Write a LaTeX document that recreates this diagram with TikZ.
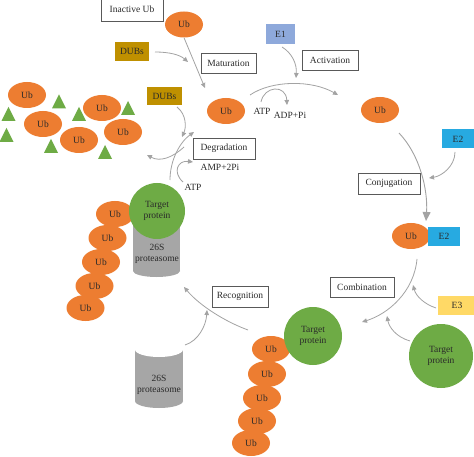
\documentclass[tikz,border=0pt]{standalone}
\usepackage{fontspec}
\setmainfont{Liberation Serif}
\usetikzlibrary{shapes.geometric,arrows.meta}
\definecolor{ubor}{HTML}{ED7D31}
\definecolor{tpg}{HTML}{6EAB45}
\definecolor{dubc}{HTML}{BF9000}
\definecolor{e1c}{HTML}{8EA9DB}
\definecolor{e2c}{HTML}{27AAE1}
\definecolor{e3c}{HTML}{FFD966}
\definecolor{cylc}{HTML}{A6A6A6}
\definecolor{arrc}{HTML}{A3A3A3}
\definecolor{bord}{HTML}{595959}
\definecolor{txt}{HTML}{2A2A2A}
\begin{document}
\begin{tikzpicture}[x=1pt,y=1pt,
  every node/.style={font=\fontsize{9.5}{10.5}\selectfont, text=txt},
  ub/.style={ellipse, fill=ubor, minimum width=38pt, minimum height=26pt, inner sep=0pt, text=txt},
  lbox/.style={draw=bord, line width=0.7pt, fill=white, minimum width=#1, minimum height=20pt, inner sep=0pt},
  ebox/.style={fill=#1, minimum height=19pt, inner sep=0pt},
  tp/.style={circle, fill=tpg, inner sep=0pt, align=center, text=txt, minimum size=#1},
  conn/.style={draw=arrc, line width=0.8pt, -{Triangle[length=5pt,width=4.5pt]}},
  tri/.style={fill=tpg}
]
\useasboundingbox (0,0) rectangle (474,-457);
\fill[white] (0,0) rectangle (474,-457);

% ---- top: inactive Ub and maturation
\node[lbox=62pt, minimum height=24pt] (inact) at (132,-9) {\raisebox{-2pt}{Inactive Ub}};
\node[ub] (ubA) at (184,-24.5) {Ub};
\node[ebox=dubc, minimum width=34pt] (dubsA) at (132,-51.5) {DUBs};
\node[lbox=55pt] (matur) at (228.5,-63.5) {Maturation};
\node[ub] (ubB) at (226,-111) {Ub};

% ---- activation
\node[ebox=e1c, minimum width=29pt, minimum height=20pt] (eone) at (280.5,-34) {E1};
\node[lbox=56pt] (activ) at (330,-60) {Activation};
\node[ub] (ubC) at (380,-110) {Ub};
\node (atpA) at (262,-111) {ATP};
\node (adp) at (290,-115) {ADP+Pi};

% ---- conjugation
\node[ebox=e2c, minimum width=32pt] (etwoA) at (458,-139) {E2};
\node[lbox=62pt, minimum height=21pt] (conj) at (389,-183.5) {Conjugation};
\node[ub] (ubD) at (411,-236) {Ub};
\node[ebox=e2c, minimum width=32pt] (etwoB) at (444,-236.5) {E2};

% ---- combination
\node[lbox=64pt] (comb) at (362,-287) {Combination};
\node[ebox=e3c, minimum width=38pt] (ethree) at (457,-305.5) {E3};
\node[tp=64pt] (tpC) at (441,-356) {Target\\protein};

% ---- bottom: Ub chain with target protein
\node[ub] (cb1) at (271,-349) {Ub};
\node[ub] (cb2) at (267,-374) {Ub};
\node[ub] (cb3) at (262,-398) {Ub};
\node[ub] (cb4) at (257,-421) {Ub};
\node[ub] (cb5) at (251,-443) {Ub};
\node[tp=58pt] (tpB) at (313,-336) {Target\\protein};

% ---- recognition
\node[lbox=56pt, minimum height=21pt] (recog) at (240,-296.5) {Recognition};
% bottom proteasome
\fill[cylc] (135,-349.5) rectangle (183,-401);
\fill[cylc] (159,-401) ellipse (24 and 7);
\fill[white] (159,-349.5) ellipse (24 and 7.5);
\node[align=center] (protB) at (159,-385) {26S\\proteasome};
\coordinate (protBtop) at (185,-345);

% ---- top-left proteasome with target protein
\fill[cylc] (133,-215) rectangle (180,-271);
\fill[cylc] (156.5,-271) ellipse (23.5 and 6);
\node[align=center] (protA) at (157,-254) {26S\\proteasome};
\node[ub] (lc1) at (115,-214) {Ub};
\node[ub] (lc2) at (107.5,-238) {Ub};
\node[ub] (lc3) at (101,-262) {Ub};
\node[ub] (lc4) at (94.5,-286) {Ub};
\node[ub] (lc5) at (85.5,-308) {Ub};
\node[tp=56pt] (tpA) at (157,-211) {Target\\protein};

% ---- degradation
\node[lbox=62pt, minimum height=21pt] (degr) at (224,-148.5) {Degradation};
\node (amp) at (220,-167) {AMP+2Pi};
\node (atpB) at (193,-187) {ATP};
\node[ebox=dubc, minimum width=35pt, minimum height=18pt] (dubsB) at (164.5,-96) {DUBs};

% ---- free Ub cluster with triangles
\foreach \x/\y in {59/-101.5, 8.5/-114, 6.5/-135, 79/-114, 128/-108, 51/-146, 105/-152}
  \fill[tri] (\x-7,\y-7) -- (\x+7,\y-7) -- (\x,\y+7) -- cycle;
\node[ub] (fr1) at (27,-95) {Ub};
\node[ub] (fr2) at (43,-124) {Ub};
\node[ub] (fr3) at (79,-140) {Ub};
\node[ub] (fr4) at (102,-108) {Ub};
\node[ub] (fr5) at (123,-132) {Ub};

% ---- connector coordinates
\coordinate (matEnd) at (205,-88);
\coordinate (dubsAs) at (155,-52);
\coordinate (dubsAe) at (188,-62);
\coordinate (actS) at (250,-95);
\coordinate (actE) at (338,-95);
\coordinate (eoneS) at (282,-47);
\coordinate (eoneE) at (296,-78);
\coordinate (atpAs) at (261,-102);
\coordinate (adpE) at (287,-105);
\coordinate (etwoS) at (455,-152);
\coordinate (etwoE) at (429,-178);
\coordinate (conjS) at (399,-133);
\coordinate (conjE) at (426,-221);
\coordinate (combS) at (417,-259);
\coordinate (combE) at (362,-322);
\coordinate (ethreeS) at (436,-308);
\coordinate (ethreeE) at (413,-285);
\coordinate (tpCs) at (410,-341);
\coordinate (tpCe) at (387,-316);
\coordinate (recS) at (248,-330);
\coordinate (recE) at (184,-287);
\coordinate (protBe) at (207,-310);
\coordinate (degS) at (170,-180);
\coordinate (degE) at (194,-132);
\coordinate (branchS) at (184,-147);
\coordinate (branchE) at (147,-155);
\coordinate (atpBs) at (183,-182);
\coordinate (ampE) at (193,-162);
\coordinate (dubsBs) at (177,-107);
\coordinate (dubsBe) at (182,-137);

% ---- connectors
\draw[conn] (ubA.south) -- (matEnd);
\draw[conn] (dubsAs) .. controls (170,-52) and (180,-55) .. (dubsAe);
\draw[conn] (actS) .. controls (272,-80) and (312,-80) .. (actE);
\draw[conn] (eoneS) .. controls (292,-53) and (297,-64) .. (eoneE);
\draw[conn] (atpAs) .. controls (264,-86) and (286,-84) .. (adpE);
\draw[conn] (etwoS) .. controls (455,-166) and (442,-176) .. (etwoE);
\draw[draw=arrc, line width=0.9pt, -{Triangle[length=9pt,width=8pt]}] (conjS) .. controls (420,-155) and (428,-190) .. (conjE);
\draw[conn] (combS) .. controls (414,-292) and (388,-314) .. (combE);
\draw[conn] (ethreeS) .. controls (424,-304) and (416,-296) .. (ethreeE);
\draw[conn] (tpCs) .. controls (396,-337) and (389,-327) .. (tpCe);
\draw[conn] (recS) .. controls (226,-322) and (200,-306) .. (recE);
\draw[conn] (protBtop) .. controls (198,-341) and (206,-326) .. (protBe);
\draw[conn] (degS) .. controls (170,-160) and (180,-142) .. (degE);
\draw[conn] (branchS) .. controls (172,-158) and (160,-162) .. (branchE);
\draw[conn] (atpBs) .. controls (172,-172) and (178,-160) .. (ampE);
\draw[conn] (dubsBs) .. controls (187,-115) and (186,-128) .. (dubsBe);
\end{tikzpicture}
\end{document}
